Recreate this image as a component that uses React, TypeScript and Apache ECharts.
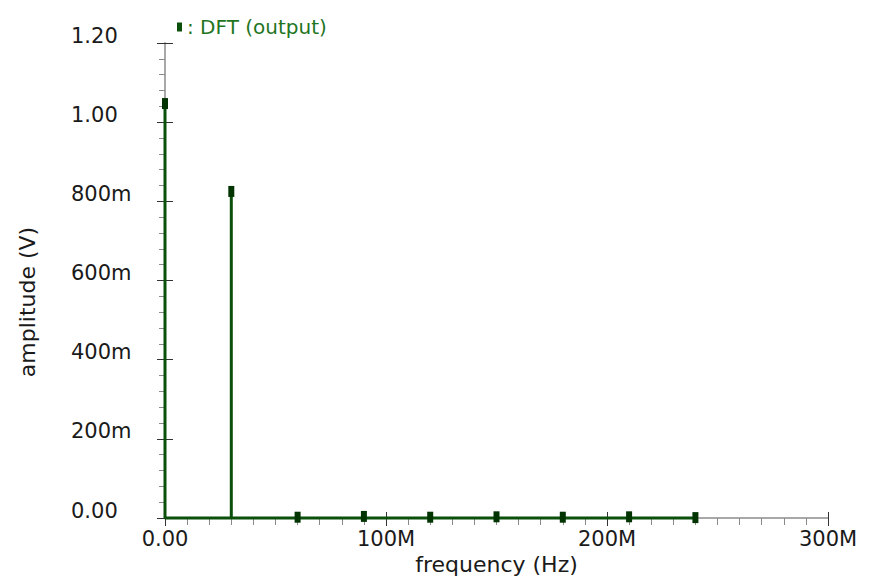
import React, { useEffect, useRef } from "react";
import * as echarts from "echarts";

// Data (frequency in Hz, amplitude in V)
const frequencies = [0, 30e6, 60e6, 90e6, 120e6, 150e6, 180e6, 210e6, 240e6];
const amplitudes = [1.047, 0.825, 0.002, 0.004, 0.002, 0.003, 0.002, 0.003, 0.001];
const seriesName = "DFT (output)";
const xTitle = "frequency (Hz)";
const yTitle = "amplitude (V)";

const LINE = "#0a4f0a";
const MARK = "#023402";
const FONT = "DejaVu Sans";

const fmtX = (v: number) => (v === 0 ? "0.00" : `${Math.round(v / 1e6)}M`);
const fmtY = (v: number) =>
  v === 0 || v >= 1 ? v.toFixed(2) : `${Math.round(v * 1000)}m`;

export default function App() {
  const ref = useRef<HTMLDivElement>(null);
  useEffect(() => {
    if (!ref.current) return;
    const chart = echarts.init(ref.current, null, { renderer: "svg" });
    const stem: number[][] = [];
    frequencies.forEach((f, i) => {
      stem.push([f, 0], [f, amplitudes[i]], [f, 0]);
    });
    const points = frequencies.map((f, i) => [f, amplitudes[i]]);
    const xBase = {
      type: "value" as const,
      min: 0,
      max: 300e6,
      interval: 100e6,
      position: "bottom" as const,
      splitLine: { show: false },
    };
    const yBase = {
      type: "value" as const,
      min: 0,
      max: 1.2,
      interval: 0.2,
      position: "left" as const,
      splitLine: { show: false },
    };
    chart.setOption({
      animation: false,
      backgroundColor: "#ffffff",
      grid: {
        left: 165,
        right: 46,
        top: 43,
        bottom: 70,
        containLabel: false,
        outerBoundsMode: "none",
      },
      legend: {
        data: [seriesName],
        left: 172,
        top: 12,
        icon: "rect",
        itemWidth: 5,
        itemHeight: 9,
        itemGap: 10,
        formatter: ": {name}",
        textStyle: { color: "#1f751f", fontFamily: FONT, fontSize: 20 },
        selectedMode: false,
      },
      xAxis: [
        {
          ...xBase,
          axisLine: { show: true, lineStyle: { color: "#a8a8a8", width: 2 } },
          axisTick: { show: true, inside: false, length: 8, lineStyle: { color: "#333" } },
          minorTick: { show: true, splitNumber: 10, length: 7, lineStyle: { color: "#8a8a8a" } },
          axisLabel: {
            formatter: fmtX,
            margin: 10,
            color: "#1a1a1a",
            fontFamily: FONT,
            fontSize: 21,
          },
          name: xTitle,
          nameLocation: "middle",
          nameGap: 35,
          nameTextStyle: { color: "#1a1a1a", fontFamily: FONT, fontSize: 22 },
        },
        {
          ...xBase,
          axisLine: { show: false },
          axisTick: { show: true, inside: true, length: 6, lineStyle: { color: "#333" } },
          axisLabel: { show: false },
        },
      ],
      yAxis: [
        {
          ...yBase,
          axisLine: { show: true, lineStyle: { color: "#a8a8a8", width: 2 } },
          axisTick: { show: true, inside: false, length: 8, lineStyle: { color: "#333" } },
          minorTick: { show: true, splitNumber: 5, length: 6, lineStyle: { color: "#8a8a8a" } },
          axisLabel: {
            formatter: fmtY,
            margin: 94,
            align: "left",
            verticalAlign: "bottom",
            lineHeight: 15,
            color: "#1a1a1a",
            fontFamily: FONT,
            fontSize: 21,
          },
        },
        {
          ...yBase,
          axisLine: { show: false },
          axisTick: { show: true, inside: true, length: 8, lineStyle: { color: "#333" } },
          axisLabel: { show: false },
        },
      ],
      graphic: [
        {
          type: "text",
          x: 27,
          y: 302,
          rotation: Math.PI / 2,
          style: {
            text: yTitle,
            fill: "#1a1a1a",
            font: `22px "${FONT}"`,
            align: "center",
            verticalAlign: "middle",
          },
        },
      ],
      series: [
        {
          name: seriesName,
          type: "line",
          data: stem,
          showSymbol: false,
          clip: false,
          color: LINE,
          lineStyle: { color: LINE, width: 3 },
          z: 3,
        },
        {
          name: seriesName,
          type: "scatter",
          data: points,
          symbol: "rect",
          symbolSize: [6, 11],
          clip: false,
          itemStyle: { color: MARK, opacity: 1 },
          z: 4,
        },
      ],
    });
    return () => chart.dispose();
  }, []);
  return (
    <div
      ref={ref}
      style={{ position: "absolute", left: 0, top: 0, width: 874, height: 588, background: "#fff" }}
    />
  );
}
